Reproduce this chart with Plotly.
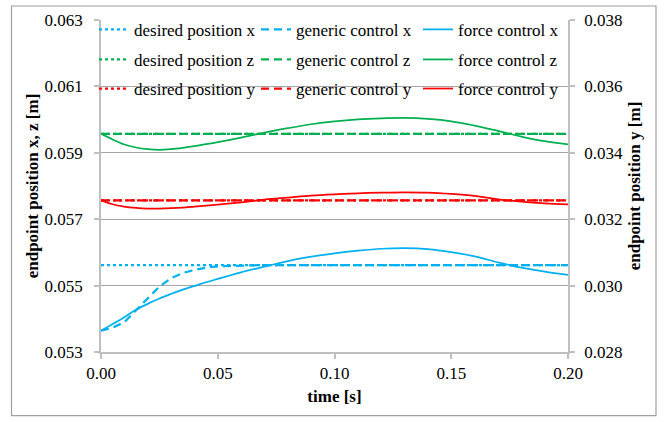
import plotly.graph_objects as go

time = [0.000, 0.005, 0.010, 0.015, 0.020, 0.025, 0.030, 0.035, 0.040, 0.045, 0.050,
        0.060, 0.070, 0.080, 0.090, 0.100, 0.110, 0.120, 0.130, 0.140, 0.150,
        0.160, 0.170, 0.180, 0.190, 0.200]

desired_x = [0.05562, 0.05562, 0.05562, 0.05562, 0.05562, 0.05562, 0.05562, 0.05562, 0.05562, 0.05562, 0.05562,
             0.05562, 0.05562, 0.05562, 0.05562, 0.05562, 0.05562, 0.05562, 0.05562, 0.05562, 0.05562,
             0.05562, 0.05562, 0.05562, 0.05562, 0.05562]
generic_x = [0.05364, 0.05373, 0.05390, 0.05425, 0.05463, 0.05497, 0.05522, 0.05538, 0.05547, 0.05554, 0.05558,
             0.05561, 0.05562, 0.05562, 0.05562, 0.05562, 0.05562, 0.05562, 0.05562, 0.05562, 0.05562,
             0.05562, 0.05562, 0.05562, 0.05562, 0.05562]
force_x = [0.05364, 0.05384, 0.05405, 0.05427, 0.05445, 0.05461, 0.05475, 0.05488, 0.05499, 0.05510, 0.05520,
           0.05540, 0.05557, 0.05574, 0.05587, 0.05597, 0.05605, 0.05611, 0.05613, 0.05610, 0.05601,
           0.05588, 0.05570, 0.05554, 0.05542, 0.05532]

desired_z = [0.05957, 0.05957, 0.05957, 0.05957, 0.05957, 0.05957, 0.05957, 0.05957, 0.05957, 0.05957, 0.05957,
             0.05957, 0.05957, 0.05957, 0.05957, 0.05957, 0.05957, 0.05957, 0.05957, 0.05957, 0.05957,
             0.05957, 0.05957, 0.05957, 0.05957, 0.05957]
generic_z = [0.05957, 0.05957, 0.05957, 0.05957, 0.05957, 0.05957, 0.05957, 0.05957, 0.05957, 0.05957, 0.05957,
             0.05957, 0.05957, 0.05957, 0.05957, 0.05957, 0.05957, 0.05957, 0.05957, 0.05957, 0.05957,
             0.05957, 0.05957, 0.05957, 0.05957, 0.05957]
force_z = [0.05957, 0.05940, 0.05925, 0.05916, 0.05911, 0.05909, 0.05911, 0.05915, 0.05920, 0.05926, 0.05932,
           0.05946, 0.05961, 0.05974, 0.05986, 0.05995, 0.06001, 0.06004, 0.06005, 0.06002, 0.05995,
           0.05982, 0.05966, 0.05949, 0.05935, 0.05925]

desired_y = [0.03257, 0.03257, 0.03257, 0.03257, 0.03257, 0.03257, 0.03257, 0.03257, 0.03257, 0.03257, 0.03257,
             0.03257, 0.03257, 0.03257, 0.03257, 0.03257, 0.03257, 0.03257, 0.03257, 0.03257, 0.03257,
             0.03257, 0.03257, 0.03257, 0.03257, 0.03257]
generic_y = [0.03257, 0.03257, 0.03257, 0.03257, 0.03257, 0.03257, 0.03257, 0.03257, 0.03257, 0.03257, 0.03257,
             0.03257, 0.03257, 0.03257, 0.03257, 0.03257, 0.03257, 0.03257, 0.03257, 0.03257, 0.03257,
             0.03257, 0.03257, 0.03257, 0.03257, 0.03257]
force_y = [0.03257, 0.03245, 0.03238, 0.03234, 0.03232, 0.03232, 0.03233, 0.03235, 0.03238, 0.03241, 0.03244,
           0.03251, 0.03259, 0.03265, 0.03271, 0.03275, 0.03278, 0.03280, 0.03281, 0.03280, 0.03276,
           0.03270, 0.03260, 0.03253, 0.03248, 0.03245]

x_ticks = [0.00, 0.05, 0.10, 0.15, 0.20]
x_ticklabels = ["0.00", "0.05", "0.10", "0.15", "0.20"]
left_ticks = [0.053, 0.055, 0.057, 0.059, 0.061, 0.063]
right_ticks = [0.028, 0.030, 0.032, 0.034, 0.036, 0.038]

BLUE = "#00B0F0"
GREEN = "#00B050"
RED = "#FF0000"
FONT = "'Liberation Serif', 'Times New Roman', 'DejaVu Serif', serif"

W, H = 665, 422
L, R, T, B = 101, 97, 15, 70
pw, ph = W - L - R, H - T - B


def py(ypx):
    return (H - B - ypx) / ph


def px(xpx):
    return (xpx - L) / pw


# legend layout: one legend per entry (rows x, z, y; columns desired, generic, force)
row_y = [25, 55.5, 85]
col_x = [94, 256, 418]

series = [
    ("x", BLUE, desired_x, generic_x, force_x, "y"),
    ("z", GREEN, desired_z, generic_z, force_z, "y"),
    ("y", RED, desired_y, generic_y, force_y, "y2"),
]

fig = go.Figure()
legends = {}
for r, (name, color, d, g, f, yax) in enumerate(series):
    specs = [
        (1, f"generic control {name}", g, dict(color=color, width=2.25, dash="8px,5px")),
        (0, f"desired position {name}", d, dict(color=color, width=2.25, dash="dot")),
        (2, f"force control {name}", f, dict(color=color, width=1.75, shape="spline")),
    ]
    for c, label, vals, line in specs:
        lid = "legend" if (r == 0 and c == 0) else f"legend{r * 3 + c + 1}"
        fig.add_trace(go.Scatter(x=time, y=vals, mode="lines", name=label, line=line,
                                 yaxis=yax, legend=lid))
        legends[lid] = dict(orientation="h", xanchor="left", yanchor="middle",
                            x=px(col_x[c]), y=py(row_y[r]), bgcolor="rgba(0,0,0,0)",
                            font=dict(family=FONT, size=17, color="#000000"), itemwidth=30)

axis_common = dict(showline=True, linecolor="#BFBFBF", linewidth=1.5,
                   ticks="outside", ticklen=5, tickcolor="#BFBFBF", tickwidth=1.5,
                   tickfont=dict(family=FONT, size=17, color="#000000"), zeroline=False)

fig.update_layout(
    width=W, height=H,
    margin=dict(l=L, r=R, t=T, b=B),
    paper_bgcolor="white", plot_bgcolor="white",
    font=dict(family=FONT, size=17, color="#000000"),
    showlegend=True,
    xaxis=dict(axis_common, range=[0, 0.2], tickvals=x_ticks, ticktext=x_ticklabels,
               showgrid=False,
               title=dict(text="<b>time [s]</b>", font=dict(family=FONT, size=17), standoff=8)),
    yaxis=dict(axis_common, range=[0.053, 0.063], tickvals=left_ticks, tickformat=".3f",
               showgrid=True, gridcolor="#A6A6A6", gridwidth=1, ticklabelstandoff=8,
               title=dict(text="<b>endpoint position x, z [m]</b>", font=dict(family=FONT, size=17), standoff=2)),
    yaxis2=dict(axis_common, range=[0.028, 0.038], tickvals=right_ticks, tickformat=".3f",
                overlaying="y", side="right", showgrid=False, ticklabelstandoff=6,
                title=dict(text="<b>endpoint position y [m]</b>", font=dict(family=FONT, size=17), standoff=6)),
    shapes=[dict(type="rect", xref="paper", yref="paper",
                 x0=px(11.5), x1=px(656), y0=py(416.5), y1=py(0.8),
                 line=dict(color="#A0A0A0", width=1.2), fillcolor="rgba(0,0,0,0)", layer="below")],
)
fig.update_layout(**legends)

fig.write_html("out.html")
